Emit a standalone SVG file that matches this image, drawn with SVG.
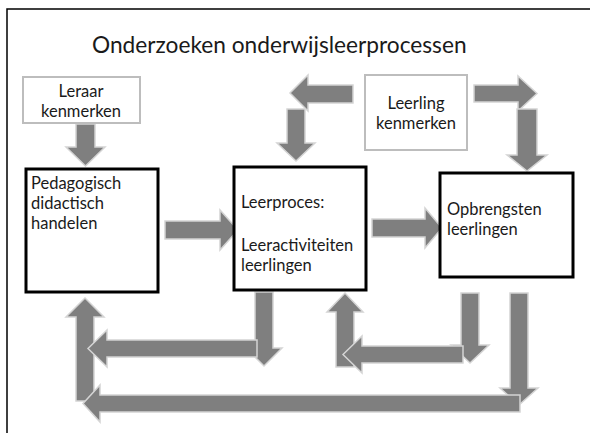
<svg xmlns="http://www.w3.org/2000/svg" width="590" height="433" viewBox="0 0 590 433">
<style>
.t{font-family:Lato,"Open Sans","Liberation Sans",sans-serif;font-size:16.5px;fill:#1a1a1a}
.c{text-anchor:middle}
.thick{fill:#fff;stroke:#000;stroke-width:3}
.thin{fill:#fff;stroke:#bdbdbd;stroke-width:2}
.ar{fill:#7f7f7f;stroke:#d4d4d4;stroke-width:1.5;stroke-linejoin:miter}
</style>
<rect width="590" height="433" fill="#fff"/>
<path d="M7,433 V9 H590" fill="none" stroke="#000" stroke-width="1.5"/>
<text class="t" x="92" y="53" style="font-size:22.7px">Onderzoeken onderwijsleerprocessen</text>
<g id="connectors">
<polygon class="ar" points="76,124 95,124 95,147 105,147 85.5,166 66,147 76,147"/>
<polygon class="ar" points="165,221 220,221 220,210 238,230 220,250 220,239 165,239"/>
<polygon class="ar" points="372,219 425,219 425,208 442,228 425,248 425,237 372,237"/>
<polygon class="ar" points="353,85 308,85 308,75 290,93 308,111 308,103 353,103"/>
<polygon class="ar" points="287,109 305,109 305,143 315,143 296,161 277,143 287,143"/>
<polygon class="ar" points="474,85 518,85 518,76 537,93.5 518,111 518,102 474,102"/>
<polygon class="ar" points="517,109 537,109 537,155 547,155 527,171 507,155 517,155"/>
<polygon class="ar" points="76,401 76,317 66,317 85,298 104,317 94,317 94,401"/>
<polygon class="ar" points="255,292 273,292 273,348 282,348 264,366 246,348 255,348"/>
<polygon class="ar" points="257,340 107,340 107,330 88,348.5 107,367 107,357 257,357"/>
<polygon class="ar" points="336,367 336,312 327,312 345,293 363,312 354,312 354,367"/>
<polygon class="ar" points="461,293 479,293 479,345 489,345 470,363 451,345 461,345"/>
<polygon class="ar" points="463,346 362,346 362,336 343,354.5 362,373 362,363 463,363"/>
<polygon class="ar" points="510,293 528,293 528,388 538,388 519,405 500,388 510,388"/>
<polygon class="ar" points="520,395 100,395 100,385 83,403.5 100,422 100,412 520,412"/>
</g>
<g id="leraar">
<rect class="thin" x="23" y="77" width="117" height="46"/>
<text class="t c" x="81" y="97">Leraar</text>
<text class="t c" x="81" y="117">kenmerken</text>
</g>
<g id="leerling">
<rect class="thin" x="365" y="75" width="102" height="75"/>
<text class="t c" x="416" y="109">Leerling</text>
<text class="t c" x="416" y="129">kenmerken</text>
</g>
<g id="pedagogisch">
<rect class="thick" x="26" y="169" width="132" height="123"/>
<text class="t" x="31" y="189">Pedagogisch</text>
<text class="t" x="31" y="209">didactisch</text>
<text class="t" x="31" y="229">handelen</text>
</g>
<g id="leerproces">
<rect class="thick" x="234" y="167" width="132" height="123"/>
<text class="t" x="241" y="208">Leerproces:</text>
<text class="t" x="241" y="251">Leeractiviteiten</text>
<text class="t" x="241" y="271">leerlingen</text>
</g>
<g id="opbrengsten">
<rect class="thick" x="440" y="173" width="133" height="104"/>
<text class="t" x="447" y="215">Opbrengsten</text>
<text class="t" x="447" y="235">leerlingen</text>
</g>
</svg>
